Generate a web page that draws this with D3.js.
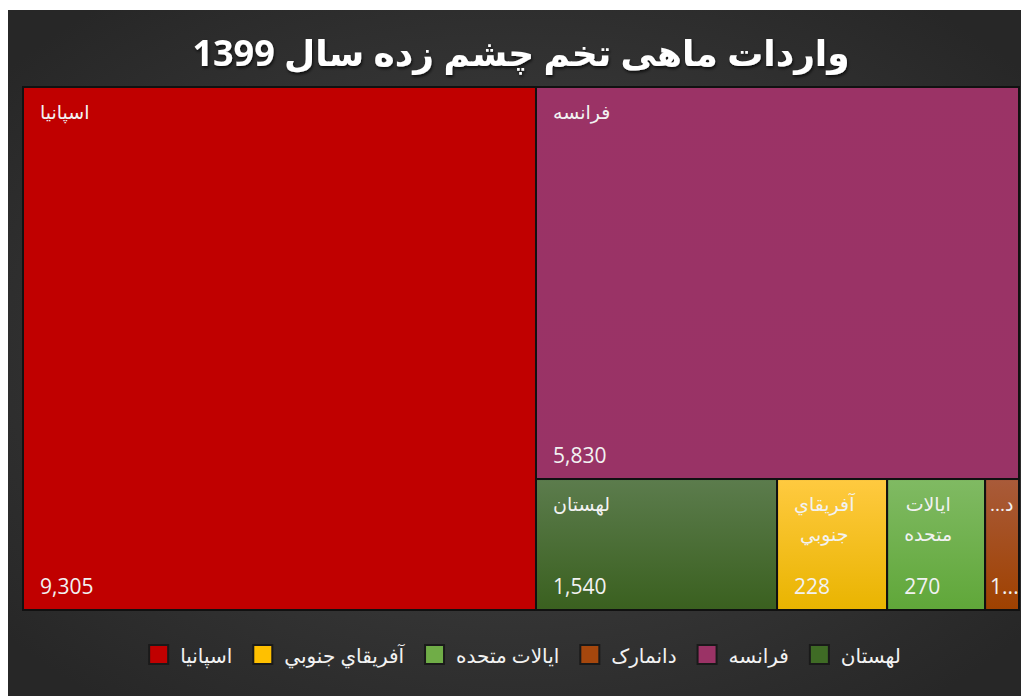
<!DOCTYPE html>
<html>
  <meta charset="utf-8" />
  <style>
    body {
      margin: 0;
      background: #fff;
    }
    text {
      font-family: "Open Sans", "DejaVu Sans", sans-serif;
    }
  </style>

  <body>
    <script src="https://d3js.org/d3.v7.min.js"></script>

    <script>
      let width = 1021,
        height = 696;

      // data
      let title = "واردات ماهی تخم چشم زده سال 1399";
      let countries = ["اسپانیا", "فرانسه", "لهستان", "آفريقاي جنوبي", "ایالات متحده", "دانمارک"];
      let values = [9305, 5830, 1540, 228, 270, 154]; // numbers printed on the tiles (last one is cut: "1...")
      let tileSizes = [9305, 6567, 1095, 500, 445, 154]; // tile areas as drawn in the picture
      let legendOrder = ["لهستان", "فرانسه", "دانمارک", "ایالات متحده", "آفريقاي جنوبي", "اسپانیا"];

      let baseColor = {
        "اسپانیا": "#c00000",
        "فرانسه": "#9b3366",
        "لهستان": "#3f6b25",
        "آفريقاي جنوبي": "#ffc000",
        "ایالات متحده": "#70ad47",
        "دانمارک": "#a5470d",
      };
      let topColor = {
        "اسپانیا": "#c00000",
        "فرانسه": "#9b3366",
        "لهستان": "#5c7c4d",
        "آفريقاي جنوبي": "#ffca40",
        "ایالات متحده": "#80ba63",
        "دانمارک": "#a95b3a",
      };
      let bottomColor = {
        "اسپانیا": "#c00000",
        "فرانسه": "#993366",
        "لهستان": "#3a601f",
        "آفريقاي جنوبي": "#e9b400",
        "ایالات متحده": "#60a739",
        "دانمارک": "#9f4100",
      };

      let plot = { x: 23, y: 87, w: 996, h: 523 };
      let fmt = d3.format(",");

      let svg = d3
        .select("body")
        .append("svg")
        .attr("width", width)
        .attr("height", height);

      let defs = svg.append("defs");

      let bg = defs
        .append("radialGradient")
        .attr("id", "bg")
        .attr("cx", "50%")
        .attr("cy", "50%")
        .attr("r", "65%");
      bg.append("stop").attr("offset", "0%").attr("stop-color", "#464646");
      bg.append("stop").attr("offset", "100%").attr("stop-color", "#272727");

      let shadow = defs.append("filter").attr("id", "shadow");
      shadow
        .append("feDropShadow")
        .attr("dx", 1)
        .attr("dy", 2)
        .attr("stdDeviation", 1.5)
        .attr("flood-color", "#000")
        .attr("flood-opacity", 0.7);

      countries.forEach((c, i) => {
        let g = defs
          .append("linearGradient")
          .attr("id", "tile" + i)
          .attr("x1", 0)
          .attr("y1", 0)
          .attr("x2", 0)
          .attr("y2", 1);
        g.append("stop").attr("offset", "0%").attr("stop-color", topColor[c]);
        g.append("stop").attr("offset", "100%").attr("stop-color", bottomColor[c]);
      });

      function drawBackground() {
        svg
          .append("rect")
          .attr("x", 8)
          .attr("y", 10)
          .attr("width", width - 8)
          .attr("height", height - 10)
          .attr("fill", "url(#bg)");

        svg
          .append("text")
          .attr("x", plot.x + plot.w / 2)
          .attr("y", 66)
          .attr("text-anchor", "middle")
          .attr("fill", "#fff")
          .attr("font-size", 36)
          .attr("font-weight", "bold")
          .attr("filter", "url(#shadow)")
          .text(title);
      }

      // fit text inside a width: wrap by words, else cut to first letters + "..."
      function fitLines(sel, str, maxW) {
        let probe = sel.append("text").text(str);
        let full = probe.node().getComputedTextLength();
        let lines = [str];
        if (full > maxW) {
          let words = str.split(" ");
          let ok = words.every((w) => {
            probe.text(w);
            return probe.node().getComputedTextLength() <= maxW;
          });
          if (words.length > 1 && ok) {
            lines = words;
          } else {
            lines = [str.slice(0, 1) + "..."];
          }
        }
        probe.remove();
        return lines;
      }

      function drawTreemap() {
        let data = countries.map((c, i) => ({
          name: c,
          value: values[i],
          size: tileSizes[i],
          idx: i,
        }));

        let root = d3
          .hierarchy({ children: data })
          .sum((d) => d.size || 0)
          .sort((a, b) => b.value - a.value);

        d3.treemap().size([plot.w, plot.h]).tile(d3.treemapSquarify)(root);

        let cells = svg
          .append("g")
          .attr("transform", `translate(${plot.x},${plot.y})`)
          .selectAll("g")
          .data(root.leaves())
          .join("g")
          .attr("transform", (d) => `translate(${d.x0},${d.y0})`);

        cells
          .append("rect")
          .attr("width", (d) => d.x1 - d.x0)
          .attr("height", (d) => d.y1 - d.y0)
          .attr("fill", (d) => `url(#tile${d.data.idx})`)
          .attr("stroke", "#111")
          .attr("stroke-width", 2);

        cells.each(function (d) {
          let g = d3.select(this);
          let w = d.x1 - d.x0,
            h = d.y1 - d.y0;
          let pad = w > 60 ? 17 : 5;
          g.attr("font-size", 19);
          let lines = fitLines(g, d.data.name, w - 2 * pad);

          // name block, lines centred on each other
          let probe = g.append("text");
          let blockW = d3.max(lines, (l) => probe.text(l).node().getComputedTextLength());
          probe.remove();
          let anchorCenter = lines.length > 1;
          g.selectAll(".name")
            .data(lines)
            .join("text")
            .attr("class", "name")
            .attr("x", anchorCenter ? pad + blockW / 2 : pad)
            .attr("y", (l, i) => 32 + i * 30)
            .attr("text-anchor", anchorCenter ? "middle" : "start")
            .attr("fill", "#f2f2f2")
            .text((l) => "\u202B" + l + "\u202C");

          let vText = fmt(d.data.value);
          let vt = g.append("text").attr("font-size", 21).text(vText);
          if (vt.node().getComputedTextLength() > w - 2 * pad) {
            vt.text(vText.slice(0, 1) + "...");
          }
          vt.attr("x", pad)
            .attr("y", h - 16)
            .attr("fill", "#f2f2f2");
        });
      }

      function drawLegend() {
        let g = svg.append("g").attr("font-size", 20);
        let box = 19,
          gapText = 12,
          gapItem = 21;
        let x = 0;
        let items = [];
        legendOrder.forEach((c) => {
          let t = g
            .append("text")
            .attr("y", 663)
            .attr("text-anchor", "end")
            .attr("fill", "#f2f2f2")
            .text(c);
          let tw = t.node().getComputedTextLength();
          items.push({ c: c, t: t, right: x });
          x -= tw + gapText;
          items[items.length - 1].box = x - box;
          x -= box + gapItem;
        });
        let total = -(x + gapItem);
        let shift = 525 + total / 2;
        items.forEach((it) => {
          it.t.attr("x", it.right + shift);
          g.append("rect")
            .attr("x", it.box + shift)
            .attr("y", 645)
            .attr("width", box)
            .attr("height", box)
            .attr("fill", baseColor[it.c])
            .attr("stroke", "#1a1a1a")
            .attr("stroke-width", 2);
        });
      }

      drawBackground();
      drawTreemap();
      drawLegend();
    </script>
  </body>
</html>
